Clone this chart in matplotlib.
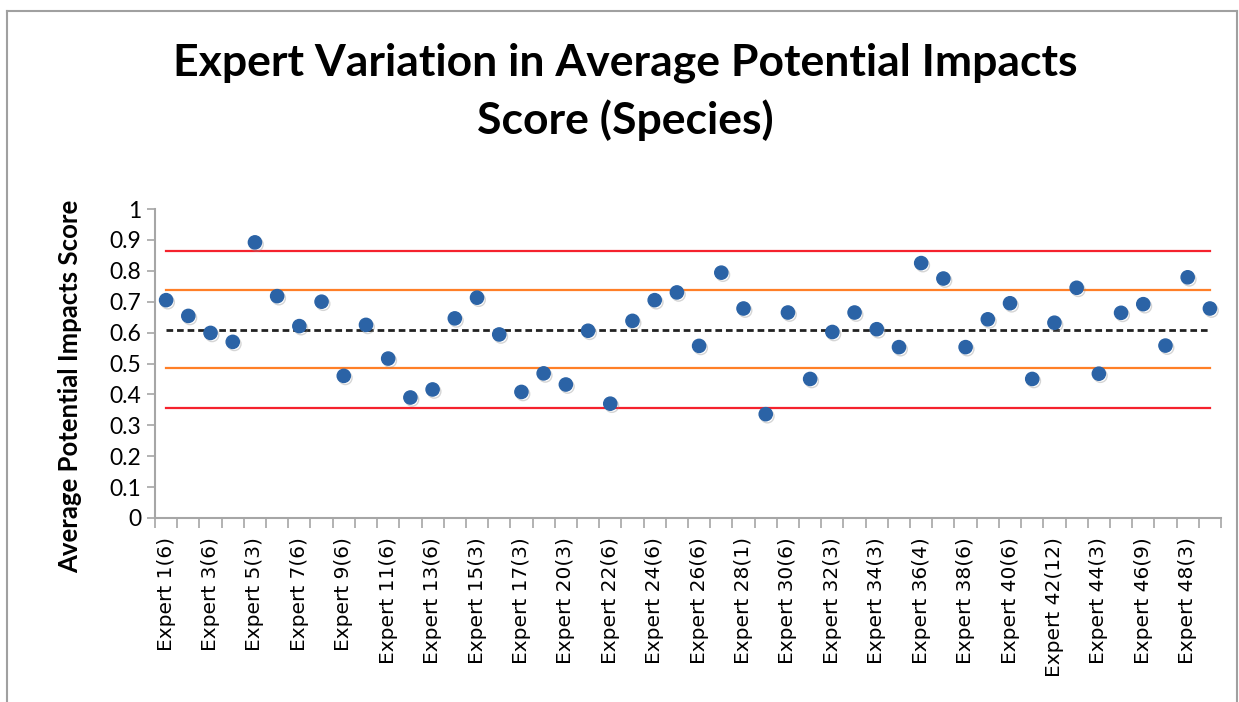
import numpy as np
import matplotlib
matplotlib.use("Agg")
import matplotlib.pyplot as plt
from matplotlib.lines import Line2D
import matplotlib.patheffects as pe

# average potential impacts score per expert (species), in expert order
scores = [0.705, 0.654, 0.599, 0.570, 0.892, 0.718, 0.621, 0.700, 0.460, 0.625,
          0.516, 0.390, 0.416, 0.646, 0.713, 0.594, 0.408, 0.468, 0.432, 0.606,
          0.370, 0.638, 0.705, 0.730, 0.557, 0.794, 0.678, 0.336, 0.665, 0.450,
          0.602, 0.665, 0.611, 0.553, 0.825, 0.775, 0.553, 0.643, 0.695, 0.450,
          0.632, 0.745, 0.467, 0.664, 0.692, 0.558, 0.779, 0.678]

# every second expert gets a label on the category axis
tick_labels = ["Expert 1(6)", "Expert 3(6)", "Expert 5(3)", "Expert 7(6)",
               "Expert 9(6)", "Expert 11(6)", "Expert 13(6)", "Expert 15(3)",
               "Expert 17(3)", "Expert 20(3)", "Expert 22(6)", "Expert 24(6)",
               "Expert 26(6)", "Expert 28(1)", "Expert 30(6)", "Expert 32(3)",
               "Expert 34(3)", "Expert 36(4)", "Expert 38(6)", "Expert 40(6)",
               "Expert 42(12)", "Expert 44(3)", "Expert 46(9)", "Expert 48(3)"]

# reference levels: mean, +/- 1 sd, +/- 2 sd
mean_level = 0.610
sd1_levels = [0.738, 0.484]
sd2_levels = [0.864, 0.356]

n = len(scores)
x = np.arange(n)

fig = plt.figure(figsize=(12.39, 7.02), dpi=100)
ax = fig.add_axes([155 / 1239, 1 - 518 / 702, (1221 - 155) / 1239, (518 - 209) / 702])

for lv in sd2_levels:
    ax.plot(x, [lv] * n, color="#f5222d", lw=1.6, zorder=2)
for lv in sd1_levels:
    ax.plot(x, [lv] * n, color="#ff7f27", lw=1.6, zorder=2)
ax.plot(x, [mean_level] * n, color="#222222", lw=2.0, ls=(0, (2.4, 1.4)), zorder=2)

ax.plot(x, scores, ls="none", marker="o", ms=9.5, color="#2b63a6", mec="#2b63a6",
        zorder=3,
        path_effects=[pe.SimpleLineShadow(offset=(1.2, -1.5), shadow_color="#888888", alpha=0.35),
                      pe.Normal()])

ax.set_xlim(-0.5, n - 0.5)
ax.set_ylim(0, 1)
ax.set_yticks(np.arange(0, 1.01, 0.1))
ax.set_yticklabels(["0"] + ["%.1f" % v for v in np.arange(0.1, 0.95, 0.1)] + ["1"],
                   fontfamily="Lato", fontsize=16.5)

ax.set_xticks(np.arange(0, n, 2))
ax.set_xticklabels(tick_labels, rotation=90, fontfamily="DejaVu Sans", fontsize=14.5)
ax.set_xticks(np.arange(-0.5, n, 1), minor=True)
ax.tick_params(axis="x", which="major", length=0, pad=14)
ax.tick_params(axis="x", which="minor", length=7, width=1.2, color="#a6a6a6", direction="out")
ax.tick_params(axis="y", length=6, width=1.2, color="#a6a6a6", pad=4)

for s in ["top", "right"]:
    ax.spines[s].set_visible(False)
for s in ["left", "bottom"]:
    ax.spines[s].set_color("#a6a6a6")
    ax.spines[s].set_linewidth(1.5)

ax.set_ylabel("Average Potential Impacts Score", fontfamily="Lato", fontweight="bold",
              fontsize=18.5)
ax.yaxis.set_label_coords(-0.0685, 0.427)

fig.text(0.5045, 0.939, "Expert Variation in Average Potential Impacts\nScore (Species)",
         ha="center", va="top", fontfamily="Lato", fontweight="bold", fontsize=32,
         linespacing=1.45)

# outer frame around the chart (open at the bottom)
frame_col = "#a0a0a0"
fig.add_artist(Line2D([7 / 1239, 7 / 1239], [0, 1 - 11 / 702], transform=fig.transFigure,
                      color=frame_col, lw=1.5))
fig.add_artist(Line2D([7 / 1239, 1237 / 1239], [1 - 11 / 702, 1 - 11 / 702],
                      transform=fig.transFigure, color=frame_col, lw=1.5))
fig.add_artist(Line2D([1237 / 1239, 1237 / 1239], [0, 1 - 11 / 702], transform=fig.transFigure,
                      color=frame_col, lw=1.5))

fig.savefig("out.png", dpi=100)
